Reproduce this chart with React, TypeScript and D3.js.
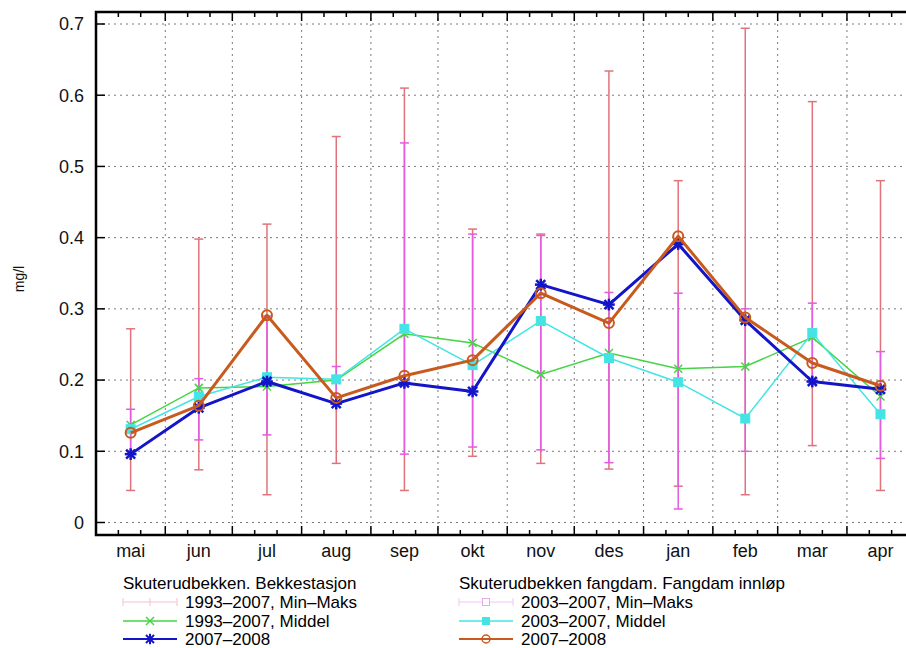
import React from 'react';
import * as d3 from 'd3';

// månedene, mai 2007 - apr 2008
const months = ['mai', 'jun', 'jul', 'aug', 'sep', 'okt', 'nov', 'des', 'jan', 'feb', 'mar', 'apr'];

// Skuterudbekken. Bekkestasjon
const bekkMin = [0.045, 0.074, 0.039, 0.083, 0.045, 0.093, 0.083, 0.075, 0.051, 0.039, 0.108, 0.045];
const bekkMax = [0.272, 0.398, 0.419, 0.542, 0.61, 0.412, 0.405, 0.634, 0.48, 0.694, 0.591, 0.48];
const bekkMiddel = [0.137, 0.189, 0.191, 0.2, 0.265, 0.252, 0.208, 0.238, 0.216, 0.219, 0.26, 0.177];
const bekk0708 = [0.096, 0.161, 0.198, 0.167, 0.196, 0.184, 0.334, 0.306, 0.391, 0.284, 0.198, 0.187];

// Skuterudbekken fangdam. Fangdam innløp
const fangMin = [0.1, 0.116, 0.123, 0.166, 0.096, 0.106, 0.102, 0.084, 0.019, 0.1, 0.199, 0.09];
const fangMax = [0.159, 0.202, 0.29, 0.219, 0.533, 0.405, 0.403, 0.323, 0.322, 0.3, 0.308, 0.24];
const fangMiddel = [0.131, 0.177, 0.204, 0.201, 0.272, 0.221, 0.283, 0.231, 0.197, 0.146, 0.266, 0.152];
const fang0708 = [0.126, 0.164, 0.291, 0.175, 0.206, 0.228, 0.322, 0.28, 0.402, 0.288, 0.224, 0.192];

const yTicks = [0, 0.1, 0.2, 0.3, 0.4, 0.5, 0.6, 0.7];

const W = 906;
const H = 648;
const left = 96;
const top = 12;
const bottom = 535;

const FONT = '"Liberation Sans", Arial, Helvetica, sans-serif';
const RED = '#e0727c';
const MAGENTA = '#e45ae0';
const GREEN = '#44d444';
const CYAN = '#44e4e4';
const BLUE = '#1414c8';
const ORANGE = '#c85a1e';

const start = new Date(Date.UTC(2007, 4, 1));
const end = new Date(Date.UTC(2008, 4, 1));
const x = d3.scaleUtc().domain([start, end]).range([left, 914]);
const y = d3.scaleLinear().domain([0, 0.7]).range([522.5, 24]);

const monthStart = (i: number) => d3.utcMonth.offset(start, i);
const mid = (i: number) => x(new Date((monthStart(i).getTime() + monthStart(i + 1).getTime()) / 2));

const majorTicks = d3.utcMonth.range(start, end);
const minorTicks = majorTicks.flatMap((m) => [d3.utcDay.offset(m, 10), d3.utcDay.offset(m, 20)]);

const line = (vals: number[]) =>
  d3
    .line<number>()
    .x((_, i) => mid(i))
    .y((v) => y(v))(vals) as string;

const ErrBar = ({ cx, lo, hi, color }: { cx: number; lo: number; hi: number; color: string }) => (
  <g stroke={color} strokeWidth={1.5}>
    <line x1={cx} x2={cx} y1={y(lo)} y2={y(hi)} />
    <line x1={cx - 4.5} x2={cx + 4.5} y1={y(lo)} y2={y(lo)} />
    <line x1={cx - 4.5} x2={cx + 4.5} y1={y(hi)} y2={y(hi)} />
  </g>
);

const Cross = ({ cx, cy, s, color, w }: any) => (
  <g stroke={color} strokeWidth={w}>
    <line x1={cx - s} x2={cx + s} y1={cy - s} y2={cy + s} />
    <line x1={cx - s} x2={cx + s} y1={cy + s} y2={cy - s} />
  </g>
);

const Star = ({ cx, cy, s, color, w }: any) => (
  <g stroke={color} strokeWidth={w}>
    <line x1={cx - s} x2={cx + s} y1={cy - s} y2={cy + s} />
    <line x1={cx - s} x2={cx + s} y1={cy + s} y2={cy - s} />
    <line x1={cx} x2={cx} y1={cy - s * 1.3} y2={cy + s * 1.3} />
    <line x1={cx - s * 1.3} x2={cx + s * 1.3} y1={cy} y2={cy} />
  </g>
);

const Square = ({ cx, cy, s, color, fill, w }: any) => (
  <rect x={cx - s} y={cy - s} width={s * 2} height={s * 2} fill={fill} stroke={color} strokeWidth={w} />
);

const Circle = ({ cx, cy, r, color, w }: any) => (
  <circle cx={cx} cy={cy} r={r} fill="none" stroke={color} strokeWidth={w} />
);

const LegendRow = ({ x0, yb, label, kind }: { x0: number; yb: number; label: string; kind: string }) => {
  const cy = yb - 6;
  const x1 = x0;
  const x2 = x0 + 54;
  const cx = (x1 + x2) / 2;
  let sample = null;
  if (kind === 'redbar' || kind === 'magbar') {
    const c = kind === 'redbar' ? '#f2c4ca' : '#f0c8f0';
    sample = (
      <g stroke={c} strokeWidth={1}>
        <line x1={x1} x2={x2} y1={cy} y2={cy} />
        <line x1={x1} x2={x1} y1={cy - 4} y2={cy + 4} />
        <line x1={x2} x2={x2} y1={cy - 4} y2={cy + 4} />
        {kind === 'redbar' ? (
          <line x1={cx} x2={cx} y1={cy - 4} y2={cy + 4} />
        ) : (
          <rect x={cx - 3.5} y={cy - 3.5} width={7} height={7} fill="white" stroke="#e8a8f0" />
        )}
      </g>
    );
  } else if (kind === 'green') {
    sample = (
      <g>
        <line x1={x1} x2={x2} y1={cy} y2={cy} stroke={GREEN} strokeWidth={1.5} />
        <Cross cx={cx} cy={cy} s={4} color={GREEN} w={1.5} />
      </g>
    );
  } else if (kind === 'blue') {
    sample = (
      <g>
        <line x1={x1} x2={x2} y1={cy} y2={cy} stroke={BLUE} strokeWidth={2} />
        <Star cx={cx} cy={cy} s={4} color={BLUE} w={2} />
      </g>
    );
  } else if (kind === 'cyan') {
    sample = (
      <g>
        <line x1={x1} x2={x2} y1={cy} y2={cy} stroke={CYAN} strokeWidth={1.5} />
        <Square cx={cx} cy={cy} s={3.5} color={CYAN} fill={CYAN} w={1} />
      </g>
    );
  } else if (kind === 'orange') {
    sample = (
      <g>
        <line x1={x1} x2={x2} y1={cy} y2={cy} stroke={ORANGE} strokeWidth={2} />
        <Circle cx={cx} cy={cy} r={4} color={ORANGE} w={1.5} />
      </g>
    );
  }
  return (
    <g>
      {sample}
      <text x={x2 + 8} y={yb} fontSize={17} fontFamily={FONT} fill="#000">
        {label}
      </text>
    </g>
  );
};

export default function App() {
  return (
    <svg width={W} height={H} style={{ position: 'absolute', left: 0, top: 0, background: '#fff' }}>
      <rect width={W} height={H} fill="#fff" />
      {/* grid */}
      <g stroke="#7a7a7a" strokeWidth={1} strokeDasharray="2,4">
        {yTicks.map((t) => (
          <line key={t} x1={left} x2={914} y1={y(t)} y2={y(t)} />
        ))}
        {majorTicks.slice(1).map((d, i) => (
          <line key={i} x1={x(d)} x2={x(d)} y1={top} y2={bottom} />
        ))}
      </g>

      {/* tick marks */}
      <g stroke="#000" strokeWidth={1.5}>
        {majorTicks.map((d, i) => (
          <g key={'M' + i}>
            <line x1={x(d)} x2={x(d)} y1={bottom} y2={bottom - 9} />
            <line x1={x(d)} x2={x(d)} y1={top} y2={top + 9} />
          </g>
        ))}
        {minorTicks.map((d, i) => (
          <g key={'m' + i}>
            <line x1={x(d)} x2={x(d)} y1={bottom} y2={bottom - 5} />
            <line x1={x(d)} x2={x(d)} y1={top} y2={top + 5} />
          </g>
        ))}
        {yTicks.map((t) => (
          <line key={t} x1={left} x2={left + 9} y1={y(t)} y2={y(t)} />
        ))}
      </g>

      {/* min-maks */}
      {months.map((m, i) => (
        <ErrBar key={'r' + m} cx={mid(i)} lo={bekkMin[i]} hi={bekkMax[i]} color={RED} />
      ))}
      {months.map((m, i) => (
        <ErrBar key={'p' + m} cx={mid(i)} lo={fangMin[i]} hi={fangMax[i]} color={MAGENTA} />
      ))}

      {/* middel */}
      <path d={line(bekkMiddel)} fill="none" stroke={GREEN} strokeWidth={1.5} />
      {bekkMiddel.map((v, i) => (
        <Cross key={'g' + i} cx={mid(i)} cy={y(v)} s={4} color={GREEN} w={1.5} />
      ))}
      <path d={line(fangMiddel)} fill="none" stroke={CYAN} strokeWidth={1.5} />
      {fangMiddel.map((v, i) => (
        <Square key={'c' + i} cx={mid(i)} cy={y(v)} s={4.5} color={CYAN} fill={CYAN} w={1} />
      ))}

      {/* 2007-2008 */}
      <path d={line(bekk0708)} fill="none" stroke={BLUE} strokeWidth={3} strokeLinejoin="round" />
      {bekk0708.map((v, i) => (
        <Star key={'b' + i} cx={mid(i)} cy={y(v)} s={4.5} color={BLUE} w={2.5} />
      ))}
      <path d={line(fang0708)} fill="none" stroke={ORANGE} strokeWidth={3} strokeLinejoin="round" />
      {fang0708.map((v, i) => (
        <Circle key={'o' + i} cx={mid(i)} cy={y(v)} r={5} color={ORANGE} w={2} />
      ))}

      {/* frame */}
      <rect x={left} y={top} width={914 - left} height={bottom - top} fill="none" stroke="#000" strokeWidth={2.5} />

      {/* labels */}
      <g fontFamily={FONT} fontSize={18} fill="#111">
        {yTicks.map((t) => (
          <text key={t} x={84} y={y(t)} dy="0.35em" textAnchor="end">
            {t === 0 ? '0' : d3.format('.1f')(t)}
          </text>
        ))}
        {months.map((m, i) => (
          <text key={m} x={mid(i)} y={557} textAnchor="middle">
            {m}
          </text>
        ))}
      </g>
      <text
        transform="translate(24,279) rotate(-90)"
        textAnchor="middle"
        fontFamily={FONT}
        fontSize={14}
        fill="#111"
      >
        mg/l
      </text>

      {/* legend */}
      <g fontFamily={FONT} fontSize={17} fill="#000">
        <text x={123} y={589}>Skuterudbekken. Bekkestasjon</text>
        <text x={459} y={589}>Skuterudbekken fangdam. Fangdam innløp</text>
      </g>
      <LegendRow x0={123} yb={608} label="1993–2007, Min–Maks" kind="redbar" />
      <LegendRow x0={123} yb={627} label="1993–2007, Middel" kind="green" />
      <LegendRow x0={123} yb={645} label="2007–2008" kind="blue" />
      <LegendRow x0={459} yb={608} label="2003–2007, Min–Maks" kind="magbar" />
      <LegendRow x0={459} yb={627} label="2003–2007, Middel" kind="cyan" />
      <LegendRow x0={459} yb={645} label="2007–2008" kind="orange" />
    </svg>
  );
}
